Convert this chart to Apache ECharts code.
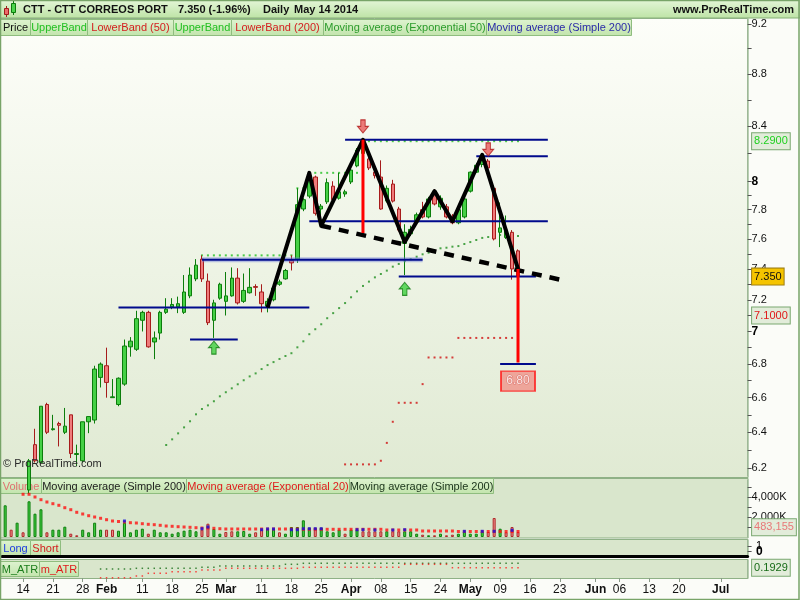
<!DOCTYPE html>
<html><head><meta charset="utf-8">
<script src="https://cdn.jsdelivr.net/npm/echarts@6/dist/echarts.min.js"></script>
<style>html,body{margin:0;padding:0;background:#fbfcf8;}#c{width:800px;height:600px;}</style>
</head><body><div id="c"></div>
<script>
// ================= DATA =================
const holidays = ['2014-04-18', '2014-04-21', '2014-05-01'];
const firstDay = '2014-01-09', lastDay = '2014-07-07';
function pad(n) { return new Array(n).fill(null); }

// Daily OHLC, Jan 9 2014 .. May 14 2014
const opens = [5.98,6.02,6.00,6.06,6.08,6.33,6.23,6.56,6.415,6.45,
  6.40,6.50,6.275,6.24,6.46,6.47,6.72,6.79,6.60,6.56,
  6.68,6.905,6.89,7.07,7.12,6.935,6.99,7.12,7.155,7.155,
  7.12,7.225,7.335,7.465,7.32,7.07,7.21,7.19,7.225,7.34,
  7.19,7.245,7.285,7.25,7.16,7.20,7.30,7.335,7.455,7.465,
  7.805,7.895,8.03,7.805,7.855,7.965,7.88,7.91,7.995,8.11,
  8.20,8.16,8.065,8.03,7.86,7.98,7.805,7.57,7.635,7.715,
  7.80,7.75,7.915,7.82,7.82,7.755,7.71,7.75,7.93,8.065,
  8.12,8.145,7.95,7.645,7.61,7.645,7.52];
const highs = [6.05,6.06,6.08,6.10,6.25,6.42,6.55,6.57,6.50,6.46,
  6.54,6.50,6.33,6.46,6.49,6.79,6.81,6.90,6.71,6.72,
  6.95,6.965,7.13,7.13,7.13,7.00,7.13,7.21,7.21,7.22,
  7.36,7.41,7.465,7.49,7.37,7.20,7.31,7.38,7.41,7.405,
  7.37,7.405,7.30,7.30,7.21,7.29,7.33,7.40,7.49,7.95,
  7.88,8.05,8.04,7.84,8.02,8.00,8.06,7.94,8.09,8.24,
  8.29,8.20,8.08,8.15,7.97,8.01,7.82,7.70,7.69,7.78,
  7.855,7.89,7.945,7.90,7.84,7.77,7.81,7.88,8.07,8.13,
  8.19,8.16,7.97,7.85,7.76,7.66,7.53];
const lows = [5.95,5.96,5.98,6.00,6.06,6.23,6.22,6.39,6.41,6.32,
  6.39,6.255,6.21,6.23,6.395,6.45,6.66,6.60,6.60,6.55,
  6.67,6.845,6.88,7.00,6.90,6.83,6.95,7.11,7.14,7.115,
  7.11,7.21,7.32,7.315,7.04,6.96,7.20,7.10,7.22,7.17,
  7.18,7.24,7.225,7.12,7.12,7.19,7.29,7.33,7.39,7.44,
  7.79,7.88,7.76,7.69,7.84,7.85,7.87,7.89,7.98,8.10,
  8.18,8.08,8.02,7.80,7.85,7.85,7.65,7.36,7.62,7.70,
  7.74,7.74,7.83,7.80,7.74,7.70,7.70,7.74,7.92,8.06,
  8.10,8.08,7.59,7.545,7.60,7.33,7.33];
const closes = [6.02,5.99,6.06,6.04,6.24,6.24,6.55,6.40,6.42,6.44,
  6.435,6.28,6.28,6.46,6.49,6.77,6.80,6.69,6.605,6.715,
  6.91,6.94,7.08,7.12,6.905,6.96,7.12,7.14,7.17,7.175,
  7.25,7.36,7.425,7.335,7.055,7.18,7.30,7.225,7.34,7.18,
  7.26,7.28,7.28,7.175,7.19,7.275,7.315,7.39,7.44,7.835,
  7.87,8.01,7.775,7.825,7.99,7.87,7.925,7.925,8.08,8.225,
  8.26,8.095,8.04,7.805,7.95,7.86,7.66,7.645,7.665,7.765,
  7.75,7.875,7.84,7.88,7.75,7.71,7.80,7.875,8.065,8.115,
  8.15,8.095,7.60,7.675,7.66,7.40,7.35];

// Volume (shares) and bar direction (1 = green, 0 = red)
const volumes = [3170000,730000,1430000,470000,3570000,2330000,2770000,470000,730000,730000,
  1030000,330000,170000,730000,470000,1430000,730000,730000,730000,630000,
  1430000,470000,730000,830000,330000,730000,470000,470000,330000,470000,
  630000,730000,570000,730000,1330000,800000,330000,500000,570000,570000,
  600000,330000,470000,730000,800000,800000,470000,330000,1000000,1000000,
  1670000,930000,930000,930000,570000,470000,730000,330000,730000,730000,
  570000,570000,570000,570000,570000,570000,570000,570000,570000,330000,
  230000,170000,170000,330000,170000,230000,330000,570000,330000,330000,
  570000,500000,1900000,830000,470000,1000000,483155];
const volumeUp = [1,0,1,0,1,1,1,0,1,1, 1,0,0,1,1,1,1,0,0,1, 1,1,1,1,0,1,1,1,1,1,
  1,1,1,0,0,1,1,0,0,1, 1,1,0,0,1,1,0,1,1,1, 1,1,0,1,1,1,1,0,1,1,
  0,0,0,0,1,0,0,1,1,1, 0,1,0,1,0,0,1,1,1,1, 1,0,0,1,0,0,0];
// Volume moving average (Exponential 20), red dots
const volumeEma = [...pad(3),
  4270000,4270000,4000000,3730000,3500000,3330000,3170000,2930000,2730000,2470000,
  2300000,2130000,2000000,1870000,1730000,1600000,1550000,1500000,1430000,1400000,
  1330000,1270000,1230000,1170000,1100000,1070000,1030000,1000000,970000,930000,
  900000,900000,870000,830000,800000,800000,800000,800000,800000,800000,
  800000,800000,800000,800000,800000,800000,800000,770000,770000,770000,
  770000,770000,770000,770000,770000,770000,770000,770000,770000,770000,
  770000,700000,700000,700000,700000,700000,700000,600000,600000,600000,
  600000,600000,600000,550000,550000,550000,550000,550000,550000,550000,
  550000,550000,550000,550000];
// Volume moving average (Simple 200), blue squares where visible
const volumeSmaDots = [['2014-02-06',1600000],['2014-02-25',830000],['2014-02-26',1000000],
  ['2014-03-11',730000],['2014-03-12',800000],['2014-03-13',800000],['2014-03-18',730000],
  ['2014-03-19',730000],['2014-03-20',830000],['2014-03-21',830000],['2014-03-24',830000],
  ['2014-03-25',830000],['2014-04-02',730000],['2014-04-03',730000],['2014-04-07',700000],
  ['2014-04-10',700000],['2014-04-14',730000],['2014-04-30',570000],['2014-05-06',570000],
  ['2014-05-08',570000],['2014-05-13',670000]];

// Price indicators
const upperBand50 = [...pad(33),
  7.49,7.49,7.49,7.49,7.49,7.49,7.49,7.49,7.49,7.49,7.49,7.49,7.49,7.49,7.49,7.49,
  7.95,7.95, 8.06,8.06,8.06,8.06,8.06,8.06,8.06,8.06,8.06,
  8.29,8.29,8.29,8.29,8.29,8.29,8.29,8.29,8.29,8.29,8.29,8.29,8.29,8.29,8.29,8.29,8.29,8.29,
  8.29,8.29,8.29,8.29,8.29,8.29,8.29,8.29,8.29];
const lowerBand50 = [...pad(57),
  6.22,6.22,6.22,6.22,6.22,6.22,6.24,6.34,6.46,6.57,6.57,6.57,6.57,6.68,
  6.84,6.84,6.84,6.84,6.84,6.96,6.96,6.96,6.96,6.96,6.96,6.96,6.96,6.96,6.96,7.10];
const ema50 = [...pad(27),
  6.328,6.360,6.394,6.428,6.463,6.503,6.534,6.555,6.579,6.608,
  6.632,6.655,6.679,6.703,6.726,6.744,6.770,6.794,6.812,6.831,
  6.849,6.866,6.902,6.939,6.983,7.014,7.045,7.083,7.115,7.147,
  7.179,7.216,7.254,7.289,7.317,7.345,7.367,7.389,7.415,7.433,
  7.452,7.464,7.481,7.497,7.508,7.519,7.537,7.541,7.548,7.552,
  7.566,7.579,7.593,7.607,7.613,7.620,7.627,7.627,7.623,7.620];

// ATR panel
const atrHigh = [...pad(16),
  0.18,0.18,0.18,0.18,0.18,0.18,
  0.187,0.187,0.187,0.187,0.187,0.187,0.187,0.187,0.187,0.187,0.187,
  0.197,0.197,0.197,
  0.21,0.21,0.21,0.21,0.21,0.21,0.21,0.21,0.21,0.21,0.21,
  0.227,0.227,0.227,
  0.237,0.237,0.237,0.237,0.237,0.237,0.237,0.237,0.237,0.237,0.237,0.237,0.237,0.237,0.237,
  0.237,0.237,0.237,0.237,0.237,0.237,0.237,0.237,0.237,0.237,0.237,0.237,0.237,0.237,0.237,
  0.237,0.237,0.237,0.237,0.237,0.237,0.237];
const atrLow = [...pad(16),
  0.092,0.092,0.092,0.092,0.092,0.092, 0.11,0.11, 0.137,0.137,0.137,0.137,
  0.153,0.153,0.153,0.153,0.153, 0.17,0.17,0.17,0.17,
  0.187,0.187,0.187,0.187,0.187,0.187,0.187,0.187,0.187,0.187,0.187,0.187,0.187,
  0.197,0.197,0.197,0.197,0.197,0.197,0.197,0.197,0.197,0.197,0.197,0.197,0.197,0.197,0.197,0.197,0.197,
  0.227,0.227,0.227,0.227,0.227,0.227,0.227,0.227,
  0.1929,0.1929,0.1929,0.1929,0.1929,0.1929,0.1929,0.1929,0.1929,0.1929,0.1929,0.1929];

// Drawn annotations (date, price)
const supportLines = [
  ['2014-02-05','2014-03-21',7.15],
  ['2014-02-25','2014-04-17',7.46],
  ['2014-02-21','2014-03-05',6.95],
  ['2014-03-31','2014-05-21',8.30],
  ['2014-05-05','2014-05-21',8.18],
  ['2014-03-21','2014-05-21',7.72],
  ['2014-04-11','2014-05-19',7.35],
  ['2014-05-09','2014-05-19',6.80]];
const highlightedLine = 1;
const zigzag = [['2014-03-12',7.15],['2014-03-21',8.06],['2014-03-25',7.69],['2014-04-03',8.30],
  ['2014-04-14',7.58],['2014-04-23',7.93],['2014-04-28',7.72],['2014-05-06',8.19],['2014-05-14',7.40]];
const necklineDashed = [['2014-03-25',7.69],['2014-05-23',7.33]];
const targetArrows = [['2014-04-03',8.30,7.64],['2014-05-14',7.40,6.81]];
const signalDown = [['2014-04-03',8.40],['2014-05-07',8.23]];
const signalUp = [['2014-02-27',6.90],['2014-04-14',7.27]];
const target = [['2014-05-14',6.80]];

// Axis ticks
const priceTickLabels = [9.2,8.8,8.4,8,7.8,7.6,7.4,7.2,7,6.8,6.6,6.4,6.2];
const priceTicks = [9.2,9.0,8.8,8.6,8.4,8.2,8.0,7.9,7.8,7.7,7.6,7.5,7.4,7.3,7.2,7.1,7.0,6.9,6.8,6.7,6.6,6.5,6.4,6.3,6.2];
const volumeTickLabels = [2000000,4000000];
const volumeTicks = [1000000,2000000,3000000,4000000,5000000];
const longShortTicks = [0,1];
const xLabelDates = ['2014-01-14','2014-01-21','2014-01-28','2014-02-03','2014-02-11','2014-02-18','2014-02-25',
  '2014-03-03','2014-03-11','2014-03-18','2014-03-25','2014-04-01','2014-04-08','2014-04-15','2014-04-24',
  '2014-05-02','2014-05-09','2014-05-16','2014-05-23','2014-06-02','2014-06-06','2014-06-13','2014-06-20','2014-07-01'];
const monthNames = ['Jan','Feb','Mar','Apr','May','Jun','Jul','Aug','Sep','Oct','Nov','Dec'];

// ================= BUILD =================
function buildDates() {
  const out = [];
  let t = Date.parse(firstDay + 'T00:00:00Z');
  const end = Date.parse(lastDay + 'T00:00:00Z');
  while (t <= end) {
    const d = new Date(t);
    const wd = d.getUTCDay();
    const s = d.toISOString().slice(0, 10);
    if (wd !== 0 && wd !== 6 && holidays.indexOf(s) < 0) out.push(s);
    t += 86400000;
  }
  return out;
}
const dates = buildDates();
const ln = Math.log;
const FONT = '"Liberation Sans", Arial, sans-serif';
const labelSet = new Set(xLabelDates);
const lnOrDash = v => (v == null ? '-' : ln(v));
const last = a => a[a.length - 1];

const candleData = opens.map((o, i) => [ln(o), ln(closes[i]), ln(lows[i]), ln(highs[i])]);
const volumeData = volumes.map((v, i) => ({
  value: v,
  itemStyle: volumeUp[i] ? { color: '#45d045', borderColor: '#0d7f0d' } : { color: '#ee8a8a', borderColor: '#b02a2a' }
}));

const GL = 2.2, GR = 52.4;
const LN_MAX = ln(6.2) + 450 / 1125, LN_MIN = ln(6.2) - 8 / 1125;

const series = [];
series.push({ type: 'scatter', xAxisIndex: 0, yAxisIndex: 0, z: 2, silent: true, symbol: 'rect', symbolSize: 2,
  itemStyle: { color: '#1f8f1f' }, data: ema50.map(lnOrDash) });
series.push({ type: 'scatter', xAxisIndex: 0, yAxisIndex: 0, z: 2, silent: true, symbol: 'rect', symbolSize: 2,
  itemStyle: { color: '#22c022' }, data: upperBand50.map(lnOrDash) });
series.push({ type: 'scatter', xAxisIndex: 0, yAxisIndex: 0, z: 2, silent: true, symbol: 'rect', symbolSize: 2,
  itemStyle: { color: '#d01010' }, data: lowerBand50.map(lnOrDash) });
series.push({ type: 'candlestick', xAxisIndex: 0, yAxisIndex: 0, z: 3, clip: true, barWidth: 4, silent: true,
  itemStyle: { color: '#45d045', color0: '#ef7b7b', borderColor: '#0b7d0b', borderColor0: '#a61b1b', borderWidth: 1 },
  data: candleData });
supportLines.forEach((l, i) => {
  if (i === highlightedLine) {
    series.push({ type: 'line', xAxisIndex: 0, yAxisIndex: 0, z: 4, silent: true, symbol: 'none',
      lineStyle: { color: '#6f7fd8', width: 5, opacity: 0.45 }, data: [[l[0], ln(l[2])], [l[1], ln(l[2])]] });
  }
  series.push({ type: 'line', xAxisIndex: 0, yAxisIndex: 0, z: 4, silent: true, symbol: 'none',
    lineStyle: { color: '#000a8c', width: 2 }, data: [[l[0], ln(l[2])], [l[1], ln(l[2])]] });
});
series.push({ type: 'line', xAxisIndex: 0, yAxisIndex: 0, z: 5, silent: true, symbol: 'none',
  lineStyle: { color: '#000', width: 4, join: 'round' }, data: zigzag.map(p => [p[0], ln(p[1])]) });
series.push({ type: 'line', xAxisIndex: 0, yAxisIndex: 0, z: 5, silent: true, symbol: 'none',
  lineStyle: { color: '#000', width: 4.5, type: [10, 8] }, data: necklineDashed.map(p => [p[0], ln(p[1])]) });
targetArrows.forEach(a => {
  series.push({ type: 'line', xAxisIndex: 0, yAxisIndex: 0, z: 6, silent: true, showSymbol: true,
    symbol: 'path://M0,0L10,0L5,8Z', symbolSize: [11, 9], symbolOffset: [0, -4.5],
    itemStyle: { color: '#ff0000' }, lineStyle: { color: '#ff0000', width: 3 },
    data: [{ value: [a[0], ln(a[1])], symbol: 'none' }, { value: [a[0], ln(a[2])] }] });
});
series.push({ type: 'scatter', xAxisIndex: 0, yAxisIndex: 0, z: 6, silent: true,
  symbol: 'path://M3,0L7,0L7,6L10,6L5,12L0,6L3,6Z', symbolSize: [11, 13],
  itemStyle: { color: '#e85a5a', borderColor: '#b01818', borderWidth: 1 },
  data: signalDown.map(p => [p[0], ln(p[1])]) });
series.push({ type: 'scatter', xAxisIndex: 0, yAxisIndex: 0, z: 6, silent: true,
  symbol: 'path://M5,0L10,6L7,6L7,12L3,12L3,6L0,6Z', symbolSize: [11, 13],
  itemStyle: { color: '#3fcf3f', borderColor: '#137a13', borderWidth: 1 },
  data: signalUp.map(p => [p[0], ln(p[1])]) });
series.push({ type: 'scatter', xAxisIndex: 0, yAxisIndex: 0, z: 7, silent: true,
  symbol: 'rect', symbolSize: [34, 20], symbolOffset: [0, 17],
  itemStyle: { color: '#f0928a', borderColor: '#ff1a1a', borderWidth: 1.5 },
  label: { show: true, position: 'inside', color: '#fff', fontSize: 12, fontFamily: FONT,
    textBorderColor: '#d86a64', textBorderWidth: 1,
    formatter: p => Math.exp(p.value[1]).toFixed(2) },
  data: target.map(p => [p[0], ln(p[1])]) });
series.push({ type: 'bar', xAxisIndex: 1, yAxisIndex: 1, z: 2, silent: true, barWidth: 3,
  itemStyle: { borderWidth: 1 }, data: volumeData });
series.push({ type: 'scatter', xAxisIndex: 1, yAxisIndex: 1, z: 3, silent: true, symbol: 'rect', symbolSize: 3,
  itemStyle: { color: '#ff1010' }, data: volumeEma.map(v => (v == null ? '-' : v)) });
series.push({ type: 'scatter', xAxisIndex: 1, yAxisIndex: 1, z: 4, silent: true, symbol: 'rect', symbolSize: 3,
  itemStyle: { color: '#1010e0' }, data: volumeSmaDots });
series.push({ type: 'scatter', xAxisIndex: 3, yAxisIndex: 3, z: 2, silent: true, symbol: 'rect', symbolSize: 1.5,
  itemStyle: { color: '#156b15' }, data: atrHigh.map(v => (v == null ? '-' : v)) });
series.push({ type: 'scatter', xAxisIndex: 3, yAxisIndex: 3, z: 3, silent: true, symbol: 'rect', symbolSize: 1.5,
  itemStyle: { color: '#ff1a1a' }, data: atrLow.map(v => (v == null ? '-' : v)) });

const baseX = (gi) => ({ type: 'category', gridIndex: gi, data: dates, boundaryGap: true,
  axisLine: { show: false }, axisTick: { show: false }, axisLabel: { show: false }, splitLine: { show: false } });
const xAxes = [baseX(0), baseX(1), baseX(2), baseX(3)];
xAxes[2].axisLine = { show: true, onZero: false, lineStyle: { color: '#000', width: 3 } };
xAxes[3].axisTick = { show: true, alignWithLabel: true, length: 4, lineStyle: { color: '#8a9a88' },
  interval: (i, v) => labelSet.has(v) };
xAxes[3].axisLabel = { show: true, margin: 6, fontSize: 12, fontFamily: FONT, color: '#111',
  interval: (i, v) => labelSet.has(v),
  formatter: (v) => {
    const i = dates.indexOf(v);
    if (i > 0 && dates[i - 1].slice(5, 7) !== v.slice(5, 7)) return '{m|' + monthNames[+v.slice(5, 7) - 1] + '}';
    return v.slice(8);
  },
  rich: { m: { fontWeight: 'bold', fontSize: 12, fontFamily: FONT, color: '#111' } } };

const axisLineR = { show: true, lineStyle: { color: '#9db896' } };
const yAxes = [
  { type: 'value', gridIndex: 0, position: 'right', min: LN_MIN, max: LN_MAX, splitLine: { show: false },
    axisLine: axisLineR,
    axisTick: { show: true, length: 4, lineStyle: { color: '#555' }, customValues: priceTicks.map(ln) },
    axisLabel: { show: true, margin: 4, fontSize: 11, fontFamily: FONT, color: '#111', hideOverlap: false,
      customValues: priceTickLabels.map(ln),
      formatter: v => { const p = Math.round(Math.exp(v) * 10) / 10; return Number.isInteger(p) ? '{b|' + p + '}' : String(p); },
      rich: { b: { fontWeight: 'bold', fontSize: 12, fontFamily: FONT, color: '#000' } } } },
  { type: 'value', gridIndex: 1, position: 'right', min: 0, max: 5700000, splitLine: { show: false },
    axisLine: axisLineR,
    axisTick: { show: true, length: 4, lineStyle: { color: '#555' }, customValues: volumeTicks },
    axisLabel: { show: true, margin: 4, fontSize: 11, fontFamily: FONT, color: '#111', customValues: volumeTickLabels,
      formatter: v => (v / 1000).toLocaleString('en-US') + 'K' } },
  { type: 'value', gridIndex: 2, position: 'right', min: -0.82, max: 2.09, splitLine: { show: false },
    axisLine: axisLineR,
    axisTick: { show: true, length: 4, lineStyle: { color: '#555' }, customValues: longShortTicks },
    axisLabel: { show: false } },
  { type: 'value', gridIndex: 3, position: 'right', min: 0.09, max: 0.27, splitLine: { show: false },
    axisLine: axisLineR, axisTick: { show: false }, axisLabel: { show: false } }
];

// ---------- static layout (frame, panes, legends, titles) ----------
const LG = (a, b) => new echarts.graphic.LinearGradient(0, 0, 0, 1, [{ offset: 0, color: a }, { offset: 1, color: b }]);
function legend(y, h, items) {
  return items.map(([t, c, x, w]) => ({ type: 'group', x: x, y: y, z: 100, silent: true, children: [
    { type: 'rect', shape: { x: 0.5, y: 0.5, width: w, height: h }, style: { fill: LG('#def3d0', '#c2e4ac'), stroke: '#8fbd7f', lineWidth: 1 } },
    { type: 'text', x: w / 2 + 0.5, y: h / 2 + 1, style: { text: t, fill: c, font: '11px ' + FONT, align: 'center', verticalAlign: 'middle' } }
  ] }));
}
const paneW = 800 - GR;
const graphic = [
  { type: 'rect', z: -10, silent: true, shape: { x: 0, y: 0, width: 800, height: 600 }, style: { fill: '#fbfcf8' } },
  { type: 'rect', z: -9, silent: true, shape: { x: 0, y: 0, width: 800, height: 18 }, style: { fill: LG('#e4f6d8', '#bde3a5'), stroke: '#86b076', lineWidth: 1 } },
  { type: 'rect', z: -9, silent: true, shape: { x: 0.5, y: 18.5, width: paneW, height: 459 }, style: { fill: LG('#fdfef9', '#e0ead3'), stroke: '#8fb186', lineWidth: 1 } },
  { type: 'rect', z: -9, silent: true, shape: { x: 0.5, y: 478.5, width: paneW, height: 59.5 }, style: { fill: '#d9e6cc', stroke: '#8fb186', lineWidth: 1 } },
  { type: 'rect', z: -9, silent: true, shape: { x: 0.5, y: 539.5, width: paneW, height: 18 }, style: { fill: '#d9e6cc', stroke: '#8fb186', lineWidth: 1 } },
  { type: 'rect', z: -9, silent: true, shape: { x: 0.5, y: 559.5, width: paneW, height: 19 }, style: { fill: '#d9e6cc', stroke: '#8fb186', lineWidth: 1 } },
  { type: 'rect', z: 200, silent: true, shape: { x: 0.5, y: 0.5, width: 798.5, height: 599 }, style: { fill: null, stroke: '#78a468', lineWidth: 1.5 } },
  { type: 'line', z: 101, silent: true, shape: { x1: 6.5, y1: 6, x2: 6.5, y2: 17 }, style: { stroke: '#a01c1c', lineWidth: 1 } },
  { type: 'rect', z: 102, silent: true, shape: { x: 4.5, y: 8.5, width: 4, height: 6 }, style: { fill: '#ee6a6a', stroke: '#a01c1c', lineWidth: 1 } },
  { type: 'line', z: 101, silent: true, shape: { x1: 13.5, y1: 1, x2: 13.5, y2: 15 }, style: { stroke: '#0d7a0d', lineWidth: 1 } },
  { type: 'rect', z: 102, silent: true, shape: { x: 11.5, y: 3.5, width: 4, height: 9 }, style: { fill: '#4cd44c', stroke: '#0d7a0d', lineWidth: 1 } },
  { type: 'text', z: 101, silent: true, x: 23, y: 10, style: { text: 'CTT - CTT CORREOS PORT', fill: '#111', font: 'bold 11px ' + FONT, verticalAlign: 'middle' } },
  { type: 'text', z: 101, silent: true, x: 178, y: 10, style: { text: '7.350 (-1.96%)', fill: '#111', font: 'bold 11px ' + FONT, verticalAlign: 'middle' } },
  { type: 'text', z: 101, silent: true, x: 263, y: 10, style: { text: 'Daily', fill: '#111', font: 'bold 11px ' + FONT, verticalAlign: 'middle' } },
  { type: 'text', z: 101, silent: true, x: 294, y: 10, style: { text: 'May 14 2014', fill: '#111', font: 'bold 11px ' + FONT, verticalAlign: 'middle' } },
  { type: 'text', z: 101, silent: true, x: 794, y: 10, style: { text: 'www.ProRealTime.com', fill: '#111', font: 'bold 11px ' + FONT, align: 'right', verticalAlign: 'middle' } },
  { type: 'text', z: 101, silent: true, x: 3, y: 464, style: { text: '\u00a9 ProRealTime.com', fill: '#2a2a2a', font: '11px ' + FONT, verticalAlign: 'middle' } }
]
.concat(legend(19, 16, [['Price', '#111', 0, 30], ['UpperBand', '#22c022', 30, 57], ['LowerBand (50)', '#d42020', 87, 86],
  ['UpperBand', '#22c022', 173, 58], ['LowerBand (200)', '#d42020', 231, 92],
  ['Moving average (Exponential 50)', '#2c9c2c', 323, 163], ['Moving average (Simple 200)', '#2a2aa8', 486, 145]]))
.concat(legend(478, 15, [['Volume', '#e07070', 0, 41], ['Moving average (Simple 200)', '#1c1c1c', 41, 145],
  ['Moving average (Exponential 20)', '#e01c1c', 186, 163], ['Moving average (Simple 200)', '#1a331a', 349, 144]]))
.concat(legend(540, 15, [['Long', '#1f3ee0', 0, 30], ['Short', '#d42020', 30, 30]]))
.concat(legend(561, 15, [['M_ATR', '#1c7d1c', 0, 39], ['m_ATR', '#e01c1c', 39, 39]]));

const option = {
  animation: false,
  backgroundColor: 'transparent',
  textStyle: { fontFamily: FONT },
  grid: [
    { left: GL, right: GR, top: 18, height: 458 },
    { left: GL, right: GR, top: 480, height: 57 },
    { left: GL, right: GR, top: 540, height: 16 },
    { left: GL, right: GR, top: 560, height: 18 }
  ],
  xAxis: xAxes,
  yAxis: yAxes,
  series: series,
  graphic: graphic
};
const chart = echarts.init(document.getElementById('c'), null, { renderer: 'canvas', width: 800, height: 600 });
chart.setOption(option);

// ---------- right-axis value boxes & long/short labels, placed through the axes ----------
const labelX = 800 - GR + 4.5;
const boxes = [
  { axis: 0, value: ln(last(upperBand50)), text: last(upperBand50).toFixed(4), color: '#1ed01e', bg: '#e2ecda', border: '#7aa870', dy: 0 },
  { axis: 0, value: ln(last(closes)), text: last(closes).toFixed(3), color: '#111', bg: '#f5c400', border: '#9a7a10', dy: 0 },
  { axis: 0, value: ln(last(lowerBand50)), text: last(lowerBand50).toFixed(4), color: '#e01818', bg: '#e2ecda', border: '#7aa870', dy: 0 },
  { axis: 1, value: last(volumes), text: last(volumes).toLocaleString('en-US'), color: '#e87878', bg: '#e2ecda', border: '#7aa870', dy: -5 },
  { axis: 3, value: last(atrLow), text: last(atrLow).toFixed(4), color: '#176b17', bg: '#e2ecda', border: '#7aa870', dy: 0 }
];
const extra = boxes.map(b => ({
  type: 'text', z: 150, silent: true, x: labelX, y: chart.convertToPixel({ yAxisIndex: b.axis }, b.value) + b.dy,
  style: { text: b.text, fill: b.color, font: '11px ' + FONT, verticalAlign: 'middle', align: 'left',
    backgroundColor: b.bg, borderColor: b.border, borderWidth: 1, padding: [3, 2, 2, 2] }
}));
longShortTicks.forEach(v => {
  extra.push({ type: 'text', z: 150, silent: true, x: labelX + 4,
    y: chart.convertToPixel({ yAxisIndex: 2 }, v),
    style: { text: String(v), fill: '#000', font: (v === 0 ? 'bold 12px ' : '11px ') + FONT, verticalAlign: 'middle', align: 'left' } });
});
option.graphic = graphic.concat(extra);
chart.setOption(option, true);
</script>
</body></html>
